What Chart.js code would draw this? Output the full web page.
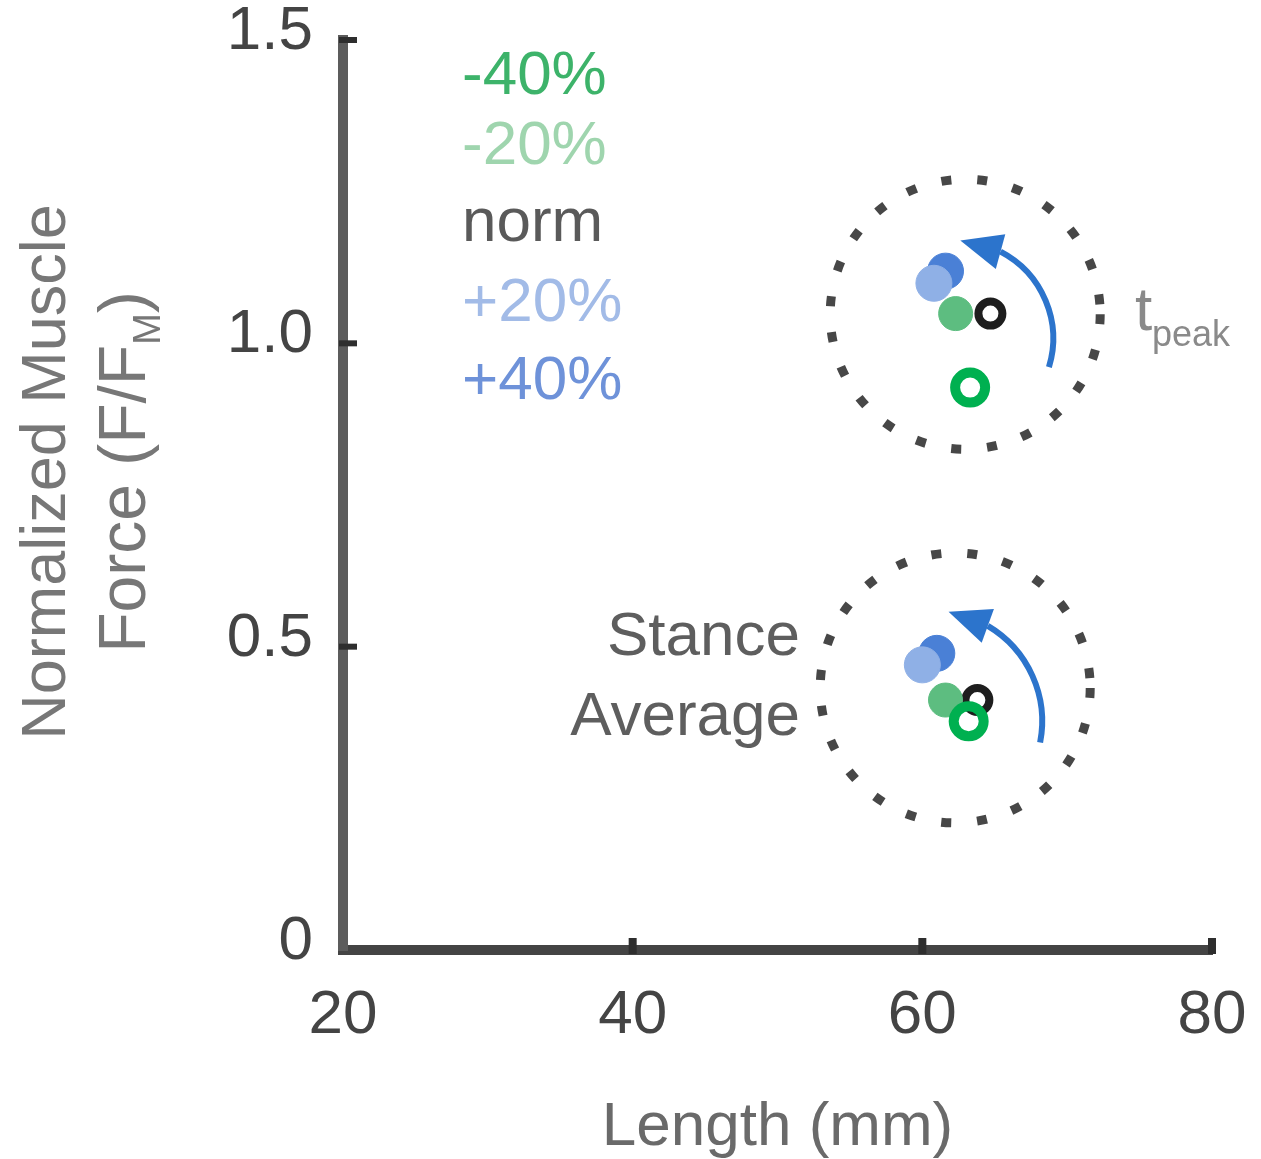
<!DOCTYPE html>
<html>
<head>
<meta charset="utf-8">
<script src="https://cdn.jsdelivr.net/npm/chart.js@4.4.1/dist/chart.umd.min.js"></script>
<style>
  html, body { margin: 0; padding: 0; background: #fff; }
  #wrap { width: 1261px; height: 1159px; }
</style>
</head>
<body>
<div id="wrap"><canvas id="forceLength" width="1261" height="1159"></canvas></div>
<script>
// series, in legend order (top to bottom)
const seriesLabels = ['-40%', '-20%', 'norm', '+20%', '+40%'];
// t_peak cluster
const peakLength = [63.3, 62.3, 64.7, 60.8, 61.6];
const peakForce  = [0.927, 1.049, 1.049, 1.099, 1.119];
// stance average cluster
const stanceLength = [63.2, 61.6, 63.8, 60.0, 61.0];
const stanceForce  = [0.377, 0.412, 0.412, 0.470, 0.489];

const xTicks = [20, 40, 60, 80];
const yTicks = [0, 0.5, 1.0, 1.5];
const yTickLabels = ['0', '0.5', '1.0', '1.5'];

// styling
const FONT = "'Liberation Sans', Arial, Helvetica, sans-serif";
const fillColors = ['rgba(0,0,0,0)', '#5dbd80', 'rgba(0,0,0,0)', '#8fb0e6', '#4a80d6'];
const lineColors = ['#00b050', '#5dbd80', '#1e1e1e', '#8fb0e6', '#4a80d6'];
const textColors = ['#3db36a', '#9fd5ae', '#5a5a5a', '#a2bbe7', '#6e92d9'];
const radii   = [15, 17, 12, 18, 18];
const borders = [10, 1, 8, 1, 1];

// annotations (data coords for centres, pixel radii)
const dottedRings = [{x: 62.96, y: 1.048}, {x: 62.27, y: 0.432}];
const ringRadius = 135;
const arrows = [
  {x: 62.27, y: 1.008, r: 98, from: 17, to: -87},
  {x: 60.61, y: 0.377, r: 111, from: 11, to: -81}
];
const legendBaselines = [94, 164, 241, 321, 399];

const overlays = {
  id: 'overlays',
  beforeDatasetsDraw(chart) {
    const {ctx, scales: {x, y}} = chart;
    ctx.save();
    ctx.strokeStyle = '#474747';
    ctx.lineWidth = 9;
    ctx.setLineDash([10, 26]);
    dottedRings.forEach(c => {
      ctx.beginPath();
      ctx.arc(x.getPixelForValue(c.x), y.getPixelForValue(c.y), ringRadius, 0, Math.PI * 2);
      ctx.stroke();
    });
    ctx.setLineDash([]);

    ctx.strokeStyle = '#2c74cc';
    ctx.fillStyle = '#2c74cc';
    ctx.lineWidth = 6;
    arrows.forEach(a => {
      const cx = x.getPixelForValue(a.x), cy = y.getPixelForValue(a.y);
      const t0 = a.from * Math.PI / 180, t1 = a.to * Math.PI / 180;
      const headLen = 42, headHalf = 18;
      const tBase = t1 + headLen / a.r;
      ctx.beginPath();
      ctx.arc(cx, cy, a.r, t0, tBase, true);
      ctx.stroke();
      const tx = cx + a.r * Math.cos(t1), ty = cy + a.r * Math.sin(t1);
      const bx = cx + a.r * Math.cos(tBase), by = cy + a.r * Math.sin(tBase);
      const dx = tx - bx, dy = ty - by, len = Math.hypot(dx, dy);
      const nx = -dy / len, ny = dx / len;
      ctx.beginPath();
      ctx.moveTo(tx, ty);
      ctx.lineTo(bx + nx * headHalf, by + ny * headHalf);
      ctx.lineTo(bx - nx * headHalf, by - ny * headHalf);
      ctx.closePath();
      ctx.fill();
    });
    ctx.restore();
  },
  afterDraw(chart) {
    const {ctx, scales: {x, y}, chartArea} = chart;
    ctx.save();
    // inward tick stubs
    ctx.strokeStyle = '#2e2e2e';
    ctx.lineWidth = 6;
    yTicks.slice(1).forEach(v => {
      const py = y.getPixelForValue(v);
      ctx.beginPath(); ctx.moveTo(chartArea.left - 4, py); ctx.lineTo(chartArea.left + 14, py); ctx.stroke();
    });
    ctx.lineWidth = 8;
    xTicks.slice(1).forEach(v => {
      const px = x.getPixelForValue(v);
      ctx.beginPath(); ctx.moveTo(px, chartArea.bottom + 4); ctx.lineTo(px, chartArea.bottom - 12); ctx.stroke();
    });

    // legend text
    ctx.font = '62px ' + FONT;
    ctx.textAlign = 'left';
    ctx.textBaseline = 'alphabetic';
    chart.data.datasets.forEach((ds, i) => {
      ctx.fillStyle = textColors[i];
      ctx.fillText(ds.label, 462, legendBaselines[i]);
    });

    // cluster labels
    ctx.fillStyle = '#5e5e5e';
    ctx.textAlign = 'right';
    ctx.fillText('Stance', 800, 655);
    ctx.fillText('Average', 800, 735);
    ctx.textAlign = 'left';
    ctx.fillStyle = '#8a8a8a';
    ctx.fillText('t', 1135, 330);
    ctx.font = '36px ' + FONT;
    ctx.fillText('peak', 1152, 346);

    // y title, two rotated lines
    ctx.fillStyle = '#777777';
    ctx.translate(0, 472);
    ctx.rotate(-Math.PI / 2);
    ctx.textAlign = 'center';
    ctx.font = '63px ' + FONT;
    ctx.fillText('Normalized Muscle', 0, 65);
    const p1 = 'Force (F/F', sub = 'M', p2 = ')';
    ctx.font = '66px ' + FONT;
    const w1 = ctx.measureText(p1).width, w3 = ctx.measureText(p2).width;
    ctx.font = '38px ' + FONT;
    const w2 = ctx.measureText(sub).width;
    let sx = -(w1 + w2 + w3) / 2;
    ctx.textAlign = 'left';
    ctx.font = '66px ' + FONT;
    ctx.fillText(p1, sx, 145);
    ctx.font = '38px ' + FONT;
    ctx.fillText(sub, sx + w1, 160);
    ctx.font = '66px ' + FONT;
    ctx.fillText(p2, sx + w1 + w2, 145);
    ctx.restore();
  }
};

const chart = new Chart(document.getElementById('forceLength'), {
  type: 'scatter',
  data: {
    datasets: seriesLabels.map((lab, i) => ({
      label: lab,
      data: [
        {x: peakLength[i], y: peakForce[i]},
        {x: stanceLength[i], y: stanceForce[i]}
      ],
      pointRadius: radii[i],
      pointHoverRadius: radii[i],
      backgroundColor: fillColors[i],
      borderColor: lineColors[i],
      borderWidth: borders[i]
    }))
  },
  options: {
    responsive: false,
    animation: false,
    layout: { padding: { top: 40, right: 49, left: 0, bottom: 0 } },
    plugins: { legend: { display: false }, tooltip: { enabled: false } },
    scales: {
      x: {
        type: 'linear', min: 20, max: 80,
        afterBuildTicks: s => { s.ticks = xTicks.map(v => ({value: v})); },
        afterFit: s => { s.height = 209; s.paddingLeft = 0; s.paddingRight = 0; },
        grid: { display: false },
        border: { display: true, color: '#444444', width: 10 },
        ticks: { color: '#444444', padding: 21, maxRotation: 0, font: { family: FONT, size: 62 } },
        title: { display: true, text: 'Length (mm)', color: '#6a6a6a', padding: 0,
                 font: { family: FONT, size: 62, lineHeight: 1 } }
      },
      y: {
        type: 'linear', min: 0, max: 1.5,
        afterBuildTicks: s => { s.ticks = yTicks.map(v => ({value: v})); },
        afterFit: s => { s.width = 343; s.paddingTop = 0; s.paddingBottom = 0; },
        grid: { display: false },
        border: { display: true, color: '#5c5c5c', width: 10 },
        ticks: { color: '#444444', padding: 22, labelOffset: -8,
                 callback: v => yTickLabels[yTicks.indexOf(v)],
                 font: { family: FONT, size: 62 } }
      }
    }
  },
  plugins: [overlays]
});
</script>
</body>
</html>
